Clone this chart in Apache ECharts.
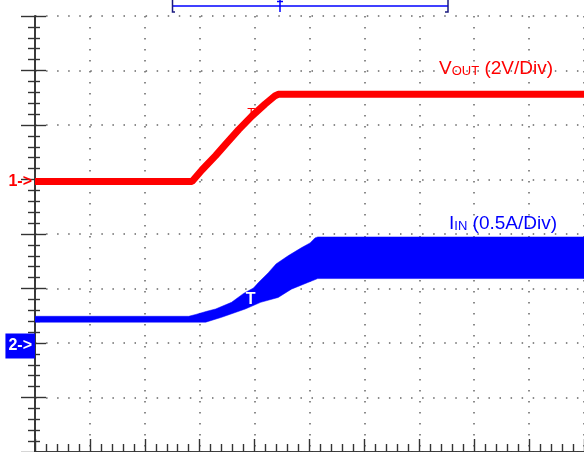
<!DOCTYPE html>
<html>
<head>
<meta charset="utf-8">
<script src="https://cdn.jsdelivr.net/npm/echarts@6/dist/echarts.min.js"></script>
<style>
html,body{margin:0;padding:0;background:#fff;}
#c{width:584px;height:452px;}
</style>
</head>
<body>
<div id="c"></div>
<script>
// ---- data (x in screen divisions, 10 div full width) ----
const voutT = [0, 2.86, 3.04, 3.29, 3.47, 3.71, 3.95, 4.19, 4.37, 4.43, 10];
const voutV = [0, 0, 0.42, 0.95, 1.36, 1.90, 2.40, 2.84, 3.14, 3.2, 3.2];      // volts
const iinTopT = [0, 2.8, 2.93, 3.13, 3.29, 3.58, 3.80, 3.98, 4.07, 4.25, 4.39, 4.61, 4.85, 5.01, 5.10, 5.15, 10];
const iinTop  = [0.245, 0.245, 0.262, 0.291, 0.312, 0.373, 0.455, 0.505, 0.555, 0.645, 0.725, 0.80, 0.873, 0.918, 0.964, 0.973, 0.973]; // amps
const iinBotT = [0, 3.11, 3.40, 3.83, 4.11, 4.43, 4.67, 4.97, 5.15, 10];
const iinBot  = [0.191, 0.191, 0.236, 0.312, 0.373, 0.418, 0.494, 0.555, 0.591, 0.591]; // amps
const voltsPerDiv = 2;
const ampsPerDiv = 0.5;
const ch1LevelDiv = 4.964;   // ground marker of channel 1, divisions above bottom
const ch2LevelDiv = 2;       // ground marker of channel 2
const ch1Label = '1->';
const ch2Label = '2->';
const voutTitle = ['V', 'OUT', ' (2V/Div)'];
const iinTitle = ['I', 'IN', ' (0.5A/Div)'];

const FONT = '"Liberation Sans", Arial, sans-serif';
const RED = '#ff0000', BLUE = '#0000ff', AX = '#333';

function frameAxis(extra){
  return Object.assign({
    type:'value', axisLabel:{show:false},
    axisLine:{show:true, lineStyle:{color:AX, width:1.6}},
    splitLine:{show:false}
  }, extra);
}
function ticks(major, minor){
  return {
    axisTick:{show:true, inside:true, length:major, lineStyle:{color:AX, width:1.4}},
    minorTick:{show:true, splitNumber:5, length:minor, lineStyle:{color:AX, width:1.4}}
  };
}
const dotStyle = (gap)=>({show:true, lineStyle:{color:'#666', width:1.5, type:[1.5, gap]}});

const chart = echarts.init(document.getElementById('c'), null, {renderer:'canvas'});
const option = {
  animation:false,
  backgroundColor:'#fff',
  grid:{left:35, top:16, width:553, height:440, containLabel:false},
  xAxis:[
    frameAxis(Object.assign({position:'bottom', min:0, max:10, interval:1,
      splitLine:dotStyle(9.5)}, ticks(13,8))),
    frameAxis(Object.assign({position:'top', min:0, max:10, interval:1}, ticks(11,5)))
  ],
  yAxis:[
    frameAxis(Object.assign({position:'left', min:0, max:8, interval:1,
      splitLine:dotStyle(9.56)}, ticks(11,5))),
    frameAxis(Object.assign({position:'right', min:0, max:8, interval:1}, ticks(14,7))),
    {type:'value', show:false, min:-ch1LevelDiv*voltsPerDiv, max:(8-ch1LevelDiv)*voltsPerDiv},
    {type:'value', show:false, min:-ch2LevelDiv*ampsPerDiv, max:(8-ch2LevelDiv)*ampsPerDiv}
  ],
  series:[
    {
      type:'custom', name:'IIN', xAxisIndex:0, yAxisIndex:3, clip:true,
      data:[[0,0]],
      renderItem:function(params, api){
        const pts = [];
        for (let i=0;i<iinTopT.length;i++) pts.push(api.coord([iinTopT[i], iinTop[i]]));
        for (let i=iinBotT.length-1;i>=0;i--) pts.push(api.coord([iinBotT[i], iinBot[i]]));
        return {type:'polygon', shape:{points:pts}, style:{fill:BLUE, stroke:BLUE, lineWidth:0.5}};
      },
      markPoint:{
        symbol:'rect', symbolSize:0, animation:false,
        data:[
          {coord:[0,0], label:{show:true, formatter:ch2Label, position:'left', distance:0, offset:[0,3],
            color:'#fff', fontFamily:FONT, fontSize:16, fontWeight:'bold', lineHeight:16, backgroundColor:BLUE, padding:[5,3,4,3]}},
          {coord:[3.93,0.4], label:{show:true, formatter:'T', position:'inside', color:'#fff', fontFamily:FONT, fontSize:16, fontWeight:'bold'}}
        ]
      }
    },
    {
      type:'line', name:'VOUT', xAxisIndex:0, yAxisIndex:2, symbol:'none', clip:true,
      data:voutT.map((t,i)=>[t, voutV[i]]),
      lineStyle:{color:RED, width:7},
      markPoint:{
        symbol:'rect', symbolSize:0, animation:false,
        data:[
          {coord:[0,0], label:{show:true, formatter:ch1Label, position:'left', distance:3,
            color:RED, fontFamily:FONT, fontSize:16, fontWeight:'bold'}},
          {coord:[3.94,2.48], label:{show:true, formatter:'T', position:'inside', color:RED, fontFamily:FONT, fontSize:13}}
        ]
      }
    }
  ],
  graphic:[
    {type:'text', left:439, top:59, z:50, style:{
      text:'{a|'+voutTitle[0]+'}{b|'+voutTitle[1]+'}{a|'+voutTitle[2]+'}',
      rich:{a:{fontSize:19, fontFamily:FONT, fill:RED, lineHeight:22, verticalAlign:'bottom'},
            b:{fontSize:13, fontFamily:FONT, fill:RED, lineHeight:11, verticalAlign:'bottom'}}
    }},
    {type:'text', left:449, top:214, z:50, style:{
      text:'{a|'+iinTitle[0]+'}{b|'+iinTitle[1]+'}{a|'+iinTitle[2]+'}',
      rich:{a:{fontSize:19, fontFamily:FONT, fill:BLUE, lineHeight:22, verticalAlign:'bottom'},
            b:{fontSize:13, fontFamily:FONT, fill:BLUE, lineHeight:11, verticalAlign:'bottom'}}
    }},
    // acquisition memory bracket at top
    {type:'line', shape:{x1:172, y1:6, x2:448, y2:6}, style:{stroke:BLUE, lineWidth:1.5}},
    {type:'polyline', shape:{points:[[175,12],[172.5,12],[172.5,0]]}, style:{stroke:'#1a1a80', lineWidth:1.5, fill:null}},
    {type:'polyline', shape:{points:[[445,12],[448,12],[448,0]]}, style:{stroke:'#1a1a80', lineWidth:1.5, fill:null}},
    {type:'line', shape:{x1:280, y1:0, x2:280, y2:12}, style:{stroke:BLUE, lineWidth:1.5}},
    {type:'line', shape:{x1:277, y1:1.5, x2:283, y2:1.5}, style:{stroke:BLUE, lineWidth:1.5}}
  ]
};
chart.setOption(option);
</script>
</body>
</html>
